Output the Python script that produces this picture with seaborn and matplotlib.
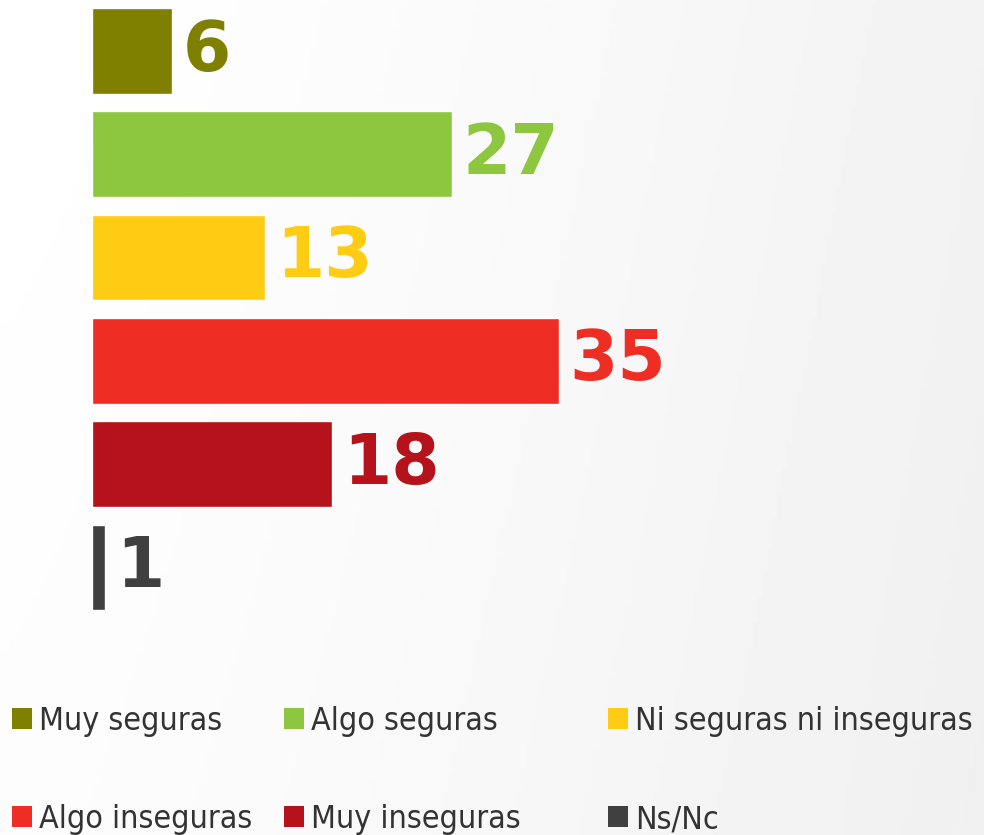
import numpy as np
import pandas as pd
import matplotlib
matplotlib.use("Agg")
import matplotlib.pyplot as plt
import seaborn as sns
from matplotlib.patches import Patch

# %% data
categories = ["Muy seguras", "Algo seguras", "Ni seguras ni inseguras",
              "Algo inseguras", "Muy inseguras", "Ns/Nc"]
values = [6, 27, 13, 35, 18, 1]
colors = ["#808000", "#8DC63F", "#FFCC14", "#EE2E24", "#B5121B", "#404041"]

df = pd.DataFrame({"cat": categories, "val": values})
pal = dict(zip(categories, colors))

# %% figure
sns.set_theme(style="white")
fig = plt.figure(figsize=(9.84, 8.35), dpi=100)

# soft grey background gradient
bg = fig.add_axes([0, 0, 1, 1], zorder=-10)
gx, gy = np.meshgrid(np.linspace(0, 1, 200), np.linspace(0, 1, 200))
grad = 1.0 - 0.05 * gx ** 1.3 - 0.01 * gy
bg.imshow(grad, cmap="gray", vmin=0, vmax=1, aspect="auto", extent=[0, 1, 0, 1])
bg.axis("off")

W, H = 984, 835
left_px, px_per_unit = 92, 13.34
ax = fig.add_axes([left_px / W, (H - 620) / H, 1 - left_px / W, 620 / H])
ax.patch.set_alpha(0)

sns.barplot(data=df, x="val", y="cat", hue="cat", palette=pal, orient="h",
            width=0.83, legend=False, saturation=1, ax=ax)
ax.set_xlim(0, (W - left_px) / px_per_unit)
ax.set_ylim(5.508, -0.494)
ax.set_axis_off()

for i, (v, c) in enumerate(zip(values, colors)):
    ax.text(v + 0.8, i, str(v), color=c, fontsize=50, fontweight="heavy",
            va="center", ha="left")

# %% legend (three columns placed individually)
handles = {c: Patch(facecolor=pal[c], edgecolor="none") for c in categories}
cols = [(["Muy seguras", "Algo inseguras"], 12),
        (["Algo seguras", "Muy inseguras"], 284),
        (["Ni seguras ni inseguras", "Ns/Nc"], 608)]
for labs, xpx in cols:
    fig.legend([handles[l] for l in labs], labs, loc="upper left",
               bbox_to_anchor=(xpx / W, 1 - 706 / H), frameon=False,
               prop={"family": "DejaVu Sans", "stretch": "condensed", "size": 23},
               handlelength=0.62, handleheight=0.62, handletextpad=0.22,
               labelspacing=2.1, borderpad=0, borderaxespad=0,
               labelcolor="#333333")

fig.savefig("out.png", dpi=100)
